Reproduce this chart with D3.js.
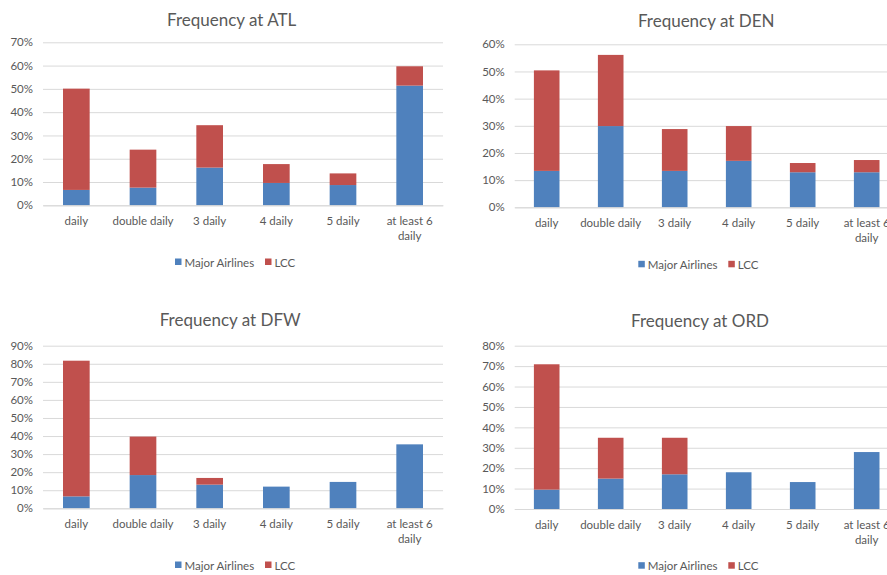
<!DOCTYPE html>
<html>
<head>
<meta charset="utf-8">
<script src="https://cdn.jsdelivr.net/npm/d3@7"></script>
<style>
  html, body { margin: 0; padding: 0; background: #fff; }
  svg { display: block; }
  text { font-family: Lato, "Open Sans", sans-serif; fill: #595959; }
</style>
</head>
<body>
<svg id="chart" width="887" height="575"></svg>
<script>
// Flight frequency categories and their (wrapped) axis labels
const categories = ["daily", "double daily", "3 daily", "4 daily", "5 daily", "at least 6 daily"];
const categoryLabels = [["daily"], ["double daily"], ["3 daily"], ["4 daily"], ["5 daily"], ["at least 6", "daily"]];
const seriesNames = ["Major Airlines", "LCC"];

// Share of routes (%) by frequency, per hub
const atlMajor = [6.6, 7.6, 16.2, 9.6, 8.7, 51.4];
const atlLcc   = [43.5, 16.3, 18.2, 8.1, 5.0, 8.3];
const denMajor = [13.4, 29.9, 13.4, 17.1, 12.9, 12.9];
const denLcc   = [37.0, 26.2, 15.4, 12.8, 3.4, 4.5];
const dfwMajor = [6.6, 18.4, 13.1, 12.0, 14.6, 35.4];
const dfwLcc   = [75.1, 21.3, 3.7, 0, 0, 0];
const ordMajor = [9.5, 14.9, 17.0, 18.0, 13.2, 27.9];
const ordLcc   = [61.4, 20.0, 17.9, 0, 0, 0];

// Value-axis maxima (%)
const atlAxisMax = 70, denAxisMax = 60, dfwAxisMax = 90, ordAxisMax = 80;

const colors = { "Major Airlines": "#4F81BD", "LCC": "#C0504D" };

const panels = [
  { title: "Frequency at ATL", major: atlMajor, lcc: atlLcc, axisMax: atlAxisMax,
    x0: 43, x1: 443, yTop: 42.3, yBottom: 205.3, titleX: 231.7, titleY: 19, legendX: 175, legendY: 262 },
  { title: "Frequency at DEN", major: denMajor, lcc: denLcc, axisMax: denAxisMax,
    x0: 514.7, x1: 898.7, yTop: 44.3, yBottom: 207.3, titleX: 706.2, titleY: 20, legendX: 638.3, legendY: 264.3 },
  { title: "Frequency at DFW", major: dfwMajor, lcc: dfwLcc, axisMax: dfwAxisMax,
    x0: 43, x1: 443, yTop: 345.7, yBottom: 508.3, titleX: 230.2, titleY: 319, legendX: 175, legendY: 565 },
  { title: "Frequency at ORD", major: ordMajor, lcc: ordLcc, axisMax: ordAxisMax,
    x0: 514.7, x1: 898.7, yTop: 345.7, yBottom: 509, titleX: 700, titleY: 320, legendX: 638.3, legendY: 565.7 }
];

const svg = d3.select("#chart");
svg.append("rect").attr("width", 887).attr("height", 575).attr("fill", "#fff");

panels.forEach(p => {
  const g = svg.append("g");

  const x = d3.scaleBand().domain(categories).range([p.x0, p.x1]).paddingInner(0.6).paddingOuter(0.3);
  const y = d3.scaleLinear().domain([0, p.axisMax]).range([p.yBottom, p.yTop]);

  // Gridlines + percentage tick labels
  const yAxis = d3.axisLeft(y)
    .tickValues(d3.range(0, p.axisMax + 0.001, 10))
    .tickFormat(d => d + "%")
    .tickSize(-(p.x1 - p.x0))
    .tickPadding(10);
  const ya = g.append("g").attr("transform", `translate(${p.x0},0)`).call(yAxis);
  ya.select(".domain").remove();
  ya.selectAll(".tick line").attr("stroke", "#D9D9D9").attr("stroke-width", 1);
  ya.selectAll(".tick text").attr("font-size", 11.5).attr("fill", "#595959")
    .style("font-family", "Lato, 'Open Sans', sans-serif");

  // Stacked bars
  const rows = categories.map((c, i) => ({ category: c, "Major Airlines": p.major[i], "LCC": p.lcc[i] }));
  const stacked = d3.stack().keys(seriesNames)(rows);
  g.append("g").selectAll("g").data(stacked).join("g")
    .attr("fill", s => colors[s.key])
    .selectAll("rect").data(s => s).join("rect")
    .attr("x", d => x(d.data.category))
    .attr("width", x.bandwidth())
    .attr("y", d => y(d[1]))
    .attr("height", d => Math.max(0, y(d[0]) - y(d[1])));

  // Category axis
  const xAxis = d3.axisBottom(x).tickSize(0).tickPadding(0).tickFormat("");
  const xa = g.append("g").attr("transform", `translate(0,${p.yBottom})`).call(xAxis);
  xa.select(".domain").attr("stroke", "#D9D9D9");
  xa.selectAll(".tick").each(function(d) {
    const lines = categoryLabels[categories.indexOf(d)];
    const t = d3.select(this).select("text")
      .attr("y", 0).attr("dy", null)
      .attr("font-size", 11.5).attr("fill", "#595959")
      .style("font-family", "Lato, 'Open Sans', sans-serif");
    t.selectAll("tspan").data(lines).join("tspan")
      .attr("x", 0).attr("y", (l, i) => 19.5 + i * 15.5)
      .text(l => l);
  });

  // Title
  g.append("text").attr("x", p.titleX).attr("y", p.titleY)
    .attr("text-anchor", "middle").attr("dominant-baseline", "central")
    .attr("font-size", 17).text(p.title);

  // Legend
  const lg = g.append("g").attr("transform", `translate(${p.legendX},${p.legendY})`);
  const offsets = [0, 90];
  seriesNames.forEach((name, i) => {
    lg.append("rect").attr("x", offsets[i]).attr("y", -3.5).attr("width", 6.5).attr("height", 6.5)
      .attr("fill", colors[name]);
    lg.append("text").attr("x", offsets[i] + 9.5).attr("y", 0)
      .attr("dominant-baseline", "central").attr("font-size", 11.5).text(name);
  });
});
</script>
</body>
</html>
